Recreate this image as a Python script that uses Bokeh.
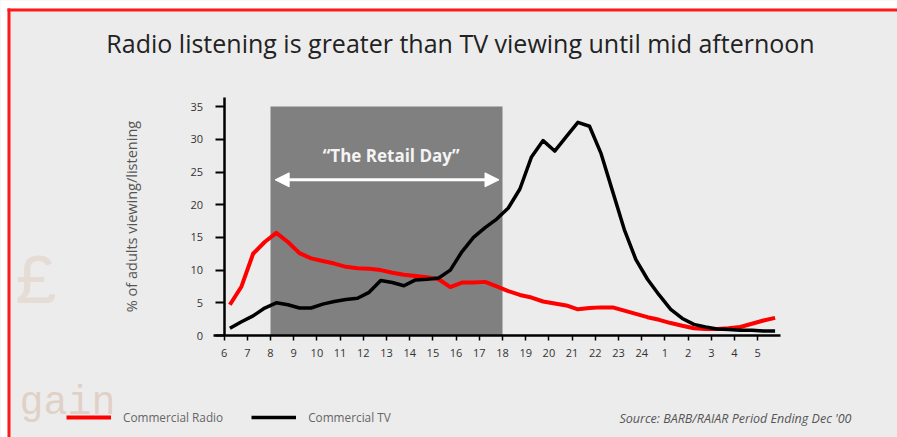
from bokeh.plotting import figure
from bokeh.models import (Label, Arrow, NormalHead, Legend, LegendItem, BoxAnnotation,
                          FixedTicker, Range1d)
from bokeh.embed import file_html
from bokeh.resources import INLINE

# ---------------- data ----------------
time_slots = ["06:15", "06:45", "07:15", "07:45", "08:15", "08:45", "09:15", "09:45",
              "10:15", "10:45", "11:15", "11:45", "12:15", "12:45", "13:15", "13:45",
              "14:15", "14:45", "15:15", "15:45", "16:15", "16:45", "17:15", "17:45",
              "18:15", "18:45", "19:15", "19:45", "20:15", "20:45", "21:15", "21:45",
              "22:15", "22:45", "23:15", "23:45", "00:15", "00:45", "01:15", "01:45",
              "02:15", "02:45", "03:15", "03:45", "04:15", "04:45", "05:15", "05:45"]

commercial_radio = [4.7, 7.5, 12.5, 14.3, 15.7, 14.3, 12.6, 11.8,
                    11.4, 11.0, 10.5, 10.3, 10.2, 10.0, 9.6, 9.3,
                    9.1, 8.9, 8.6, 7.4, 8.1, 8.1, 8.2, 7.5,
                    6.8, 6.2, 5.8, 5.2, 4.9, 4.6, 4.0, 4.2,
                    4.3, 4.3, 3.8, 3.3, 2.8, 2.4, 1.9, 1.5,
                    1.1, 1.0, 1.0, 1.1, 1.3, 1.8, 2.3, 2.7]

commercial_tv = [1.1, 2.1, 3.0, 4.2, 5.0, 4.7, 4.2, 4.2,
                 4.8, 5.2, 5.5, 5.7, 6.6, 8.4, 8.1, 7.6,
                 8.5, 8.6, 8.8, 10.0, 12.8, 15.0, 16.5, 17.8,
                 19.5, 22.4, 27.3, 29.8, 28.2, 30.4, 32.6, 32.0,
                 27.8, 22.0, 16.2, 11.6, 8.6, 6.2, 4.0, 2.6,
                 1.7, 1.3, 1.0, 0.9, 0.8, 0.8, 0.7, 0.7]

hour_ticks = [6, 7, 8, 9, 10, 11, 12, 13, 14, 15, 16, 17, 18, 19, 20, 21, 22, 23, 24,
              1, 2, 3, 4, 5]
y_ticks = [0, 5, 10, 15, 20, 25, 30, 35]
retail_start, retail_end = 8, 18
retail_top = 35

title_text = "Radio listening is greater than TV viewing until mid afternoon"
y_label = "% of adults viewing/listening"
retail_label = "\u201cThe Retail Day\u201d"
source_text = "Source: BARB/RAIAR Period Ending Dec '00"
series_names = ["Commercial Radio", "Commercial TV"]


def day_pos(t):
    h, m = (int(v) for v in t.split(":"))
    return (h - 6) % 24 + m / 60


def hour_pos(h):
    return (h - 6) % 24


x = [day_pos(t) for t in time_slots]
tick_pos = [hour_pos(h) for h in hour_ticks]

# ---------------- layout (pixel <-> data helpers for annotations) ----------------
W, H = 897, 437
X0_PX, X_SCALE = 223.6, 23.2    # pixel of hour-index 0, pixels per hour
Y0_PX, Y_SCALE = 335.0, 6.54    # pixel of value 0, pixels per unit


def dx(px):
    return (px - X0_PX) / X_SCALE


def dy(py):
    return (Y0_PX - py) / Y_SCALE


BG = "#ececec"
FONT = "Open Sans"
RED = "#ff1a1a"

p = figure(width=W, height=H, x_range=Range1d(dx(0), dx(W)), y_range=Range1d(dy(H), dy(0)),
           output_backend="svg", toolbar_location=None, min_border=0)
p.border_fill_color = BG
p.background_fill_color = BG
p.outline_line_color = None
p.grid.visible = False

# white page margin + red frame strips (top and left edges)
def strip(l, r, t, b, color):
    p.add_layout(BoxAnnotation(left=dx(l), right=dx(r), top=dy(t), bottom=dy(b),
                               fill_color=color, fill_alpha=1.0, line_color=None,
                               line_alpha=0, level="underlay"))


strip(0, W, 0, 8, "white")
strip(0, 7, 0, H, "white")
strip(7, W, 8, 11, RED)
strip(7, 10, 8, H, RED)

# faint background decorations
p.add_layout(Label(x=dx(19), y=dy(403), text="gain", text_font="Liberation Mono",
                   text_baseline="middle", text_font_size="40px", text_color="#d9bfae",
                   text_alpha=0.6, level="underlay"))
p.add_layout(Label(x=dx(36), y=dy(284), text="\u00a3", text_font="Liberation Mono",
                   text_align="center", text_baseline="middle", text_font_size="70px",
                   text_color="#d9bfae", text_alpha=0.35, level="underlay"))

# retail day shading
p.quad(left=[retail_start - 6], right=[retail_end - 6], bottom=[0], top=[retail_top],
       fill_color="#808080", line_color=None)

r_radio = p.line(x, commercial_radio, line_color="#ff0000", line_width=4, line_join="round")
r_tv = p.line(x, commercial_tv, line_color="black", line_width=3.5, line_join="round")

# retail day arrow + label
p.add_layout(Arrow(x_start=2.2, y_start=23.8, x_end=11.85, y_end=23.8,
                   line_color="white", line_width=3,
                   start=NormalHead(size=14, fill_color="white", line_color="white"),
                   end=NormalHead(size=14, fill_color="white", line_color="white")))
p.add_layout(Label(x=7.2, y=27.5, text=retail_label, text_align="center", text_baseline="middle",
                   text_font=FONT, text_font_style="bold", text_font_size="17px",
                   text_color="#f4f4f4"))

# title
p.add_layout(Label(x=dx(460), y=dy(42), text=title_text, text_align="center",
                   text_baseline="middle", text_font=FONT, text_font_size="25px",
                   text_color="#222222"))

# source note
p.add_layout(Label(x=dx(851), y=dy(418), text=source_text, text_align="right",
                   text_baseline="middle", text_font=FONT, text_font_style="italic",
                   text_font_size="12.5px", text_color="#555555"))

# axes (fixed at the data origin)
xa = p.xaxis[0]
xa.fixed_location = 0
xa.bounds = (dx(213), 24)
xa.ticker = FixedTicker(ticks=tick_pos)
xa.major_label_overrides = {pos: str(h) for pos, h in zip(tick_pos, hour_ticks)}
xa.axis_line_width = 2.5
xa.axis_line_color = "black"
xa.major_tick_line_width = 1.5
xa.major_tick_out = 5
xa.major_tick_in = 0
xa.minor_tick_line_color = None
xa.major_label_standoff = 8
xa.major_label_text_font = FONT
xa.major_label_text_font_size = "11px"
xa.major_label_text_color = "#333333"

ya = p.yaxis[0]
ya.fixed_location = 0
ya.bounds = (0, 36.4)
ya.ticker = FixedTicker(ticks=y_ticks)
ya.axis_line_width = 2.5
ya.axis_line_color = "black"
ya.major_tick_line_width = 2
ya.major_tick_out = 9
ya.major_tick_in = 0
ya.minor_tick_line_color = None
ya.major_label_standoff = 12
ya.major_label_text_font = FONT
ya.major_label_text_font_size = "11px"
ya.major_label_text_color = "#333333"
ya.axis_label = y_label
ya.axis_label_text_font = FONT
ya.axis_label_text_font_style = "normal"
ya.axis_label_text_font_size = "14.5px"
ya.axis_label_text_color = "#555555"
ya.axis_label_standoff = 47

# legend
legend = Legend(items=[LegendItem(label=series_names[0], renderers=[r_radio]),
                       LegendItem(label=series_names[1], renderers=[r_tv])],
                orientation="horizontal", location=(66, 12),
                background_fill_alpha=0, border_line_color=None,
                padding=0, margin=0, spacing=28, label_standoff=12,
                glyph_width=45, glyph_height=14,
                label_text_font=FONT, label_text_font_size="11.8px",
                label_text_color="#666666")
p.add_layout(legend)

open("out.html", "w").write(file_html(p, INLINE))
